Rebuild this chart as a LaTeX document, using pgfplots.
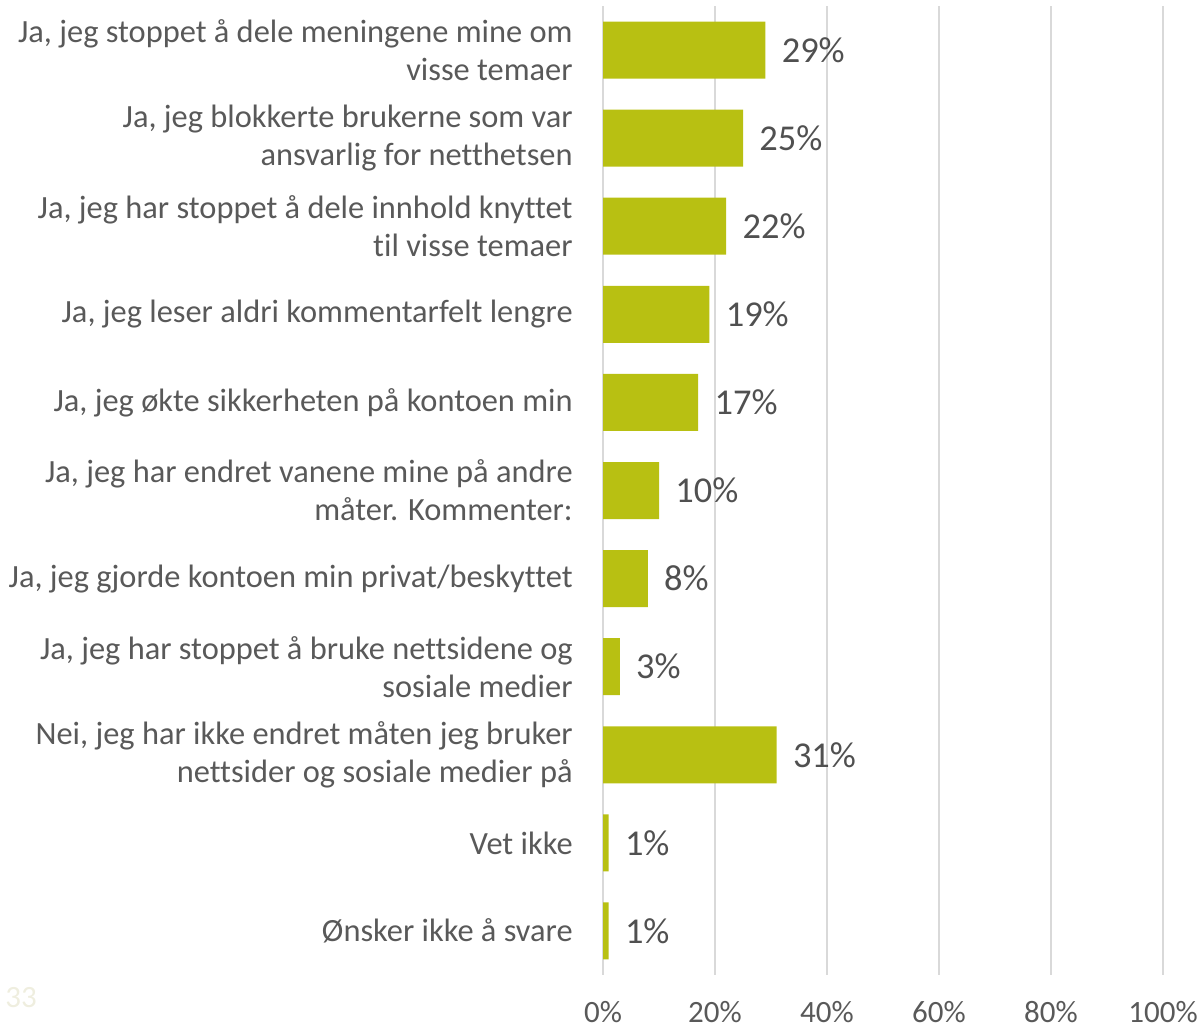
\documentclass[border=0pt]{standalone}
\usepackage{pgfplots}
\pgfplotsset{compat=1.18}
\usepackage{fontspec}
\setmainfont{Carlito}[Ligatures={NoCommon,NoContextual}]
\definecolor{barc}{HTML}{B8C012}
\definecolor{txt}{HTML}{595959}
\definecolor{lbl}{HTML}{505050}
\definecolor{gridc}{HTML}{D9D9D9}
\definecolor{pgn}{HTML}{EFEEDF}
\begin{document}
\begin{tikzpicture}
\path[use as bounding box] (0,0) rectangle (602pt,515pt);
\node[anchor=west,inner sep=0pt,text=pgn,font=\fontsize{15.5pt}{18pt}\selectfont] at (2.5pt,16pt) {33};
\begin{axis}[
  at={(301.5pt,27.5pt)}, anchor=south west,
  scale only axis, width=280pt, height=484.5pt,
  xbar, bar width=28.5pt,
  xmin=0, xmax=100,
  ymin=-0.5, ymax=10.5, y dir=reverse,
  xtick={0,20,...,100},
  xticklabel={\pgfmathprintnumber{\tick}\%},
  ytick={0,...,10},
  yticklabels={
    {Ja, jeg stoppet å dele meningene mine om\\visse temaer},
    {Ja, jeg blokkerte brukerne som var\\ansvarlig for netthetsen},
    {Ja, jeg har stoppet å dele innhold knyttet\\til visse temaer},
    {Ja, jeg leser aldri kommentarfelt lengre},
    {Ja, jeg økte sikkerheten på kontoen min},
    {Ja, jeg har endret vanene mine på andre\\måter. Kommenter:},
    {Ja, jeg gjorde kontoen min privat/beskyttet},
    {Ja, jeg har stoppet å bruke nettsidene og\\sosiale medier},
    {Nei, jeg har ikke endret måten jeg bruker\\nettsider og sosiale medier på},
    {Vet ikke},
    {Ønsker ikke å svare}},
  yticklabel style={align=right, font=\fontsize{16.2pt}{19pt}\selectfont, text=txt, inner sep=0pt, xshift=-15pt},
  xticklabel style={font=\fontsize{15.5pt}{18pt}\selectfont, text=txt, inner sep=0pt, yshift=-13pt},
  /pgf/number format/assume math mode=true,
  major tick length=0pt,
  axis line style={draw=none},
  xmajorgrids, grid style={gridc, line width=1pt},
  nodes near coords={\pgfmathprintnumber{\pgfplotspointmeta}\%},
  nodes near coords style={anchor=west, inner sep=0pt, xshift=8pt, text=lbl, font=\fontsize{18.2pt}{21pt}\selectfont},
  point meta=explicit,
]
\addplot[fill=barc, draw=none] coordinates {
  (29,0) [29]
  (25,1) [25]
  (22,2) [22]
  (19,3) [19]
  (17,4) [17]
  (10,5) [10]
  (8,6) [8]
  (3,7) [3]
  (31,8) [31]
  (1,9) [1]
  (1,10) [1]
};
\end{axis}
\end{tikzpicture}
\end{document}
